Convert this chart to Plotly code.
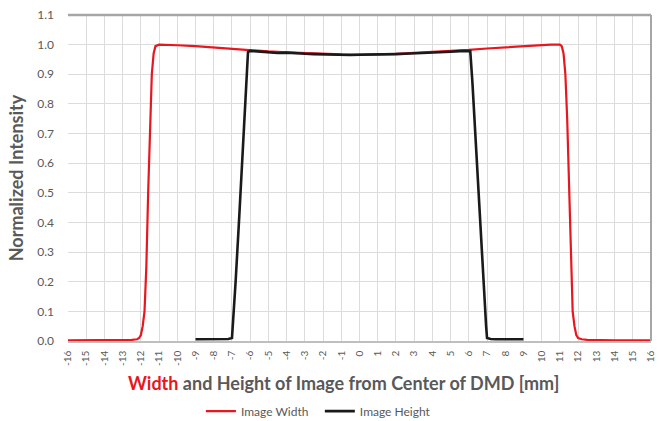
import plotly.graph_objects as go

# ---- data ----
width_x = [-16, -15, -14, -13, -12.5, -12.2, -12.1, -12.0, -11.9, -11.8, -11.7, -11.6,
           -11.5, -11.4, -11.3, -11.2, -11.0, -10.5, -10, -9, -8, -7, -6, -5, -4, -3,
           -2, -1, 0, 1, 2, 3, 4, 5, 6, 7, 8, 9, 10, 10.5, 11.0, 11.1, 11.2, 11.3,
           11.4, 11.5, 11.6, 11.7, 11.8, 11.9, 12.0, 12.2, 12.5, 13, 14, 15, 16]
width_y = [0.002, 0.002, 0.002, 0.003, 0.004, 0.006, 0.01, 0.02, 0.05, 0.1, 0.25, 0.5,
           0.75, 0.9, 0.97, 0.995, 1.0, 1.0, 0.998, 0.995, 0.99, 0.985, 0.981, 0.977,
           0.974, 0.971, 0.968, 0.967, 0.966, 0.967, 0.969, 0.972, 0.975, 0.978, 0.982,
           0.987, 0.991, 0.995, 0.998, 1.0, 1.0, 0.995, 0.97, 0.9, 0.75, 0.5, 0.25, 0.1,
           0.05, 0.02, 0.01, 0.006, 0.004, 0.003, 0.002, 0.002, 0.002]

height_x = [-9, -8.5, -8, -7.5, -7.2, -7.0, -6.95, -6.8, -6.6, -6.4, -6.2, -6.12, -6.0,
            -5.5, -5, -4.5, -4, -3.5, -3, -2.5, -2, -1.5, -1, -0.5, 0, 0.5, 1, 1.5, 2,
            2.5, 3, 3.5, 4, 4.5, 5, 5.5, 6.0, 6.08, 6.2, 6.4, 6.6, 6.8, 6.95, 7.0, 7.2,
            7.5, 8, 8.5, 9]
height_y = [0.006, 0.006, 0.006, 0.006, 0.007, 0.01, 0.05, 0.2, 0.42, 0.64, 0.87, 0.975,
            0.979, 0.976, 0.975, 0.972, 0.973, 0.97, 0.969, 0.968, 0.967, 0.966, 0.967,
            0.965, 0.966, 0.966, 0.967, 0.966, 0.968, 0.969, 0.97, 0.972, 0.973, 0.975,
            0.976, 0.978, 0.98, 0.978, 0.87, 0.64, 0.42, 0.2, 0.05, 0.01, 0.007, 0.006,
            0.006, 0.006, 0.006]

x_ticks = list(range(-16, 17))
y_ticks = [0.0, 0.1, 0.2, 0.3, 0.4, 0.5, 0.6, 0.7, 0.8, 0.9, 1.0, 1.1]

x_title = "<b><span style='color:#e8161e'>Width</span> and Height of Image from Center of DMD [mm]</b>"
y_title = "<b>Normalized Intensity</b>"

RED = "#e8161e"
BLACK = "#1a1a1a"
GRAY = "#595959"
FONT = "Lato"

fig = go.Figure()
fig.add_trace(go.Scatter(x=width_x, y=width_y, mode="lines", name="Image Width",
                         line=dict(color=RED, width=2.2), legend="legend"))
fig.add_trace(go.Scatter(x=height_x, y=height_y, mode="lines", name="Image Height",
                         line=dict(color=BLACK, width=2.6), legend="legend2"))

legend_common = dict(orientation="h", xanchor="left", y=-0.215, yanchor="middle",
                     font=dict(size=12, color=GRAY), itemwidth=30,
                     bgcolor="rgba(0,0,0,0)")

fig.update_layout(
    width=659, height=421,
    margin=dict(l=68, r=8, t=15, b=80, autoexpand=False),
    paper_bgcolor="white", plot_bgcolor="white",
    font=dict(family=FONT, color=GRAY),
    showlegend=True,
    legend=dict(x=0.228, **legend_common),
    legend2=dict(x=0.432, **legend_common),
    xaxis=dict(range=[-16, 16], tickmode="array", tickvals=x_ticks,
               ticktext=[str(v) for v in x_ticks], tickangle=-90,
               tickfont=dict(size=10, color=GRAY), showgrid=True, gridcolor="#dcdcdc",
               gridwidth=1, zeroline=False, showline=True, linecolor="#bfbfbf",
               linewidth=1.5, ticks="", ticklabelstandoff=4, automargin=False),
    yaxis=dict(range=[0, 1.1], tickmode="array", tickvals=y_ticks,
               ticktext=["%.1f" % v for v in y_ticks],
               tickfont=dict(size=12, color=GRAY), showgrid=True, gridcolor="#dcdcdc",
               gridwidth=1, zeroline=False, showline=False, ticks="",
               ticklabelstandoff=13, automargin=False,
               title=dict(text=y_title, font=dict(size=18, color=GRAY), standoff=8)),
    annotations=[
        dict(text=x_title, xref="paper", yref="paper", x=0.473, y=-0.129,
             xanchor="center", yanchor="middle", showarrow=False,
             font=dict(size=18, color=GRAY, family=FONT)),
    ],
    shapes=[
        dict(type="line", xref="paper", yref="paper", x0=0, x1=1, y0=1, y1=1,
             line=dict(color="#a6a6a6", width=2.5)),
        dict(type="line", xref="paper", yref="paper", x0=1, x1=1, y0=0, y1=1,
             line=dict(color="#a6a6a6", width=2)),
    ],
)

fig.write_html("out.html", config={"displayModeBar": False},
               post_script="document.body.style.margin='0';document.body.style.overflow='hidden';")
